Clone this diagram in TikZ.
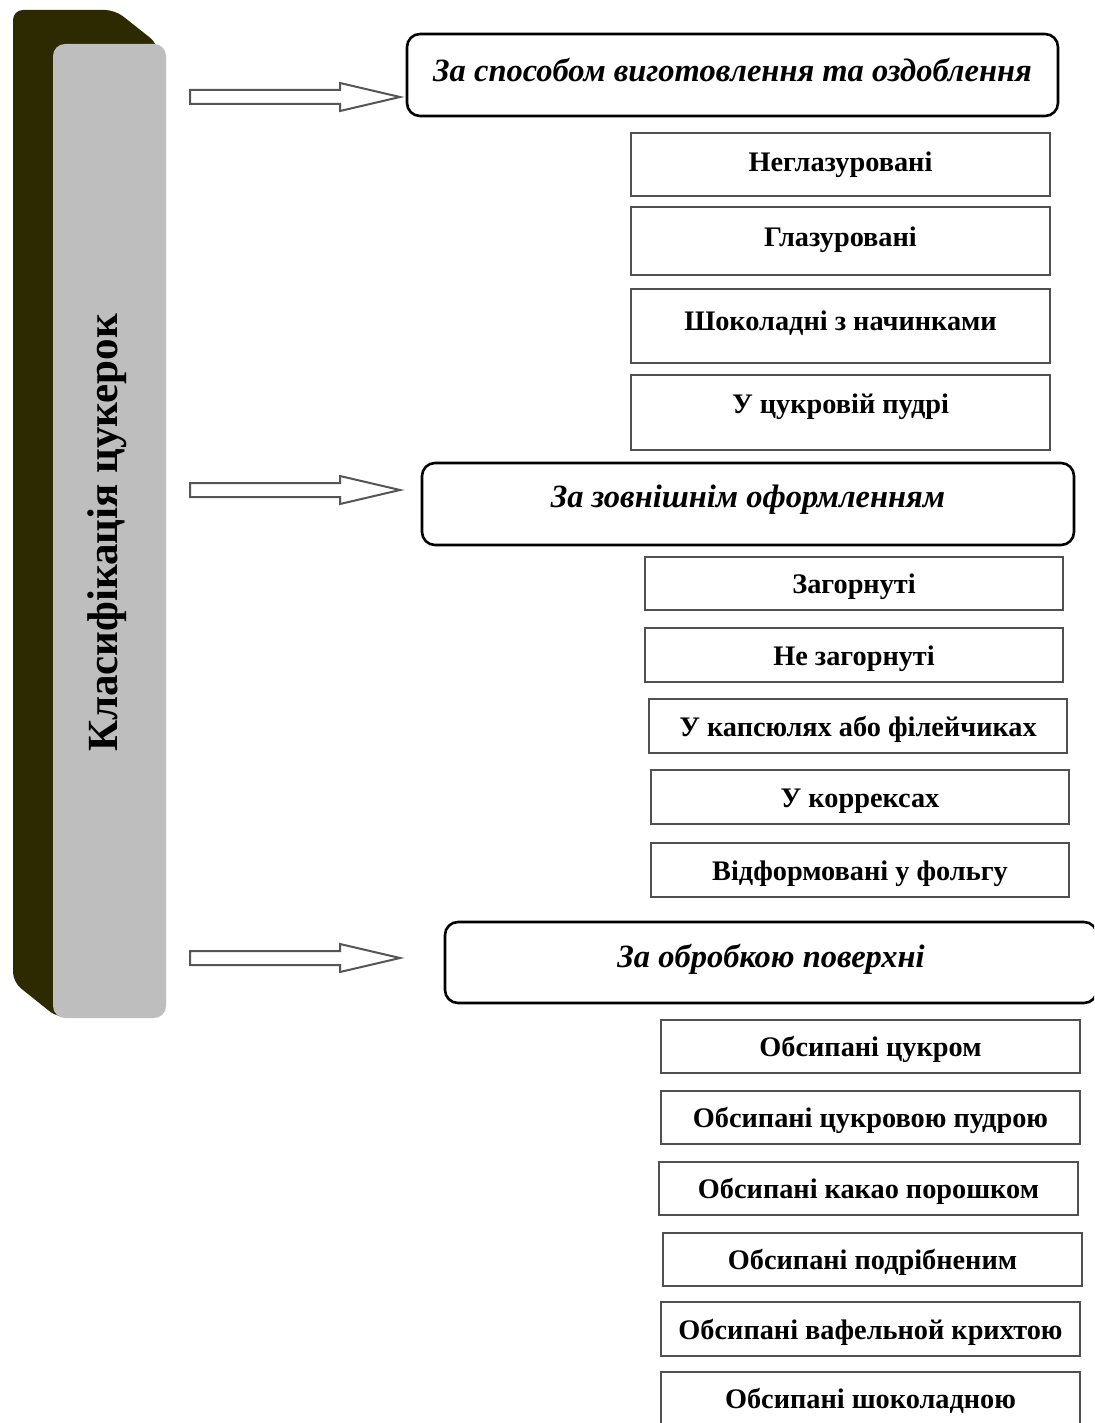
\documentclass[tikz,border=0pt]{standalone}
\usepackage{fontspec}
\setmainfont{Liberation Serif}
\usetikzlibrary{calc}
\definecolor{barDark}{RGB}{45,41,0}
\definecolor{barFace}{RGB}{190,190,190}
\definecolor{boxLine}{RGB}{80,80,80}
\definecolor{arrLine}{RGB}{85,85,85}
\newcommand\itembox[8]{%
\pgfmathsetmacro\bw{#5-#3}%
\pgfmathsetmacro\bh{#6-#4}%
\pgfmathsetmacro\bcx{(#3+#5)/2}%
\pgfmathsetmacro\bcy{(#4+#6)/2}%
\pgfmathsetmacro\bd{max(0,2*(\bcy-#7)+2)}%
\node[#1, minimum width=\bw pt, minimum height=\bh pt, text depth=\bd pt] (#2) at (\bcx,\bcy) {#8};}
\newcommand\blockarrow[2]{%
\draw[barrow] ($(#1)+(0,-7)$) -- ($(#2)+(-60,-7)$) -- ($(#2)+(-60,-14)$) -- (#2) -- ($(#2)+(-60,14)$) -- ($(#2)+(-60,7)$) -- ($(#1)+(0,7)$) -- cycle;}
\tikzset{
  smallbox/.style={draw=boxLine, line width=2pt, fill=white, inner sep=0pt, text height=20pt,
    font=\bfseries\fontsize{28.3}{32}\selectfont},
  headbox/.style={draw=black, line width=2.6pt, rounded corners=13pt, fill=white, inner sep=0pt, text height=21pt,
    font=\bfseries\itshape\fontsize{32.5}{36}\selectfont},
  barrow/.style={draw=arrLine, line width=2pt, fill=white, line join=miter},
}
\begin{document}
\begin{tikzpicture}[x=1pt,y=-1pt]
\useasboundingbox (0,0) rectangle (1094,1423);
\clip (0,0) rectangle (1094,1423);
\fill[white] (0,0) rectangle (1094,1423);
% 3D bar
\fill[barDark, rounded corners=10pt] (13,982) -- (13,10) -- (115,10) -- (158,44) -- (158,1005) -- (58,1018) -- cycle;
\fill[barFace, rounded corners=12pt] (53,44) rectangle (166,1018);
\node[rotate=90, font=\bfseries\fontsize{43}{46}\selectfont] (title) at (107,533) {Класифікація цукерок};
% headers
\itembox{headbox}{h1}{407}{34}{1058}{116}{72}{За способом виготовлення та оздоблення}
\itembox{headbox}{h2}{422}{463}{1074}{545}{498}{За зовнішнім оформленням}
\itembox{headbox}{h3}{445}{922}{1097}{1003}{958}{За обробкою поверхні}
% arrows
\coordinate (a1s) at (190,97);  \coordinate (a1t) at (400,97);
\coordinate (a2s) at (190,490); \coordinate (a2t) at (400,490);
\coordinate (a3s) at (190,958); \coordinate (a3t) at (400,958);
\blockarrow{a1s}{a1t}
\blockarrow{a2s}{a2t}
\blockarrow{a3s}{a3t}
% group 1
\itembox{smallbox}{g1a}{631}{133}{1050}{196}{163}{Неглазуровані}
\itembox{smallbox}{g1b}{631}{207}{1050}{275}{238}{Глазуровані}
\itembox{smallbox}{g1c}{631}{289}{1050}{363}{321}{Шоколадні з начинками}
\itembox{smallbox}{g1d}{631}{375}{1050}{450}{404}{У цукровій пудрі}
% group 2
\itembox{smallbox}{g2a}{645}{557}{1063}{610}{584}{Загорнуті}
\itembox{smallbox}{g2b}{645}{628}{1063}{682}{656}{Не загорнуті}
\itembox{smallbox}{g2c}{649}{699}{1067}{753}{728}{У капсюлях або філейчиках}
\itembox{smallbox}{g2d}{651}{770}{1069}{824}{799}{У коррексах}
\itembox{smallbox}{g2e}{651}{843}{1069}{897}{872}{Відформовані у фольгу}
% group 3
\itembox{smallbox}{g3a}{661}{1020}{1080}{1073}{1048}{Обсипані цукром}
\itembox{smallbox}{g3b}{661}{1091}{1080}{1144}{1118}{Обсипані цукровою пудрою}
\itembox{smallbox}{g3c}{659}{1162}{1078}{1215}{1190}{Обсипані какао порошком}
\itembox{smallbox}{g3d}{663}{1233}{1082}{1286}{1261}{Обсипані подрібненим}
\itembox{smallbox}{g3e}{661}{1302}{1080}{1356}{1330}{Обсипані вафельной крихтою}
\itembox{smallbox}{g3f}{661}{1372}{1080}{1430}{1399}{Обсипані шоколадною}
\end{tikzpicture}
\end{document}
